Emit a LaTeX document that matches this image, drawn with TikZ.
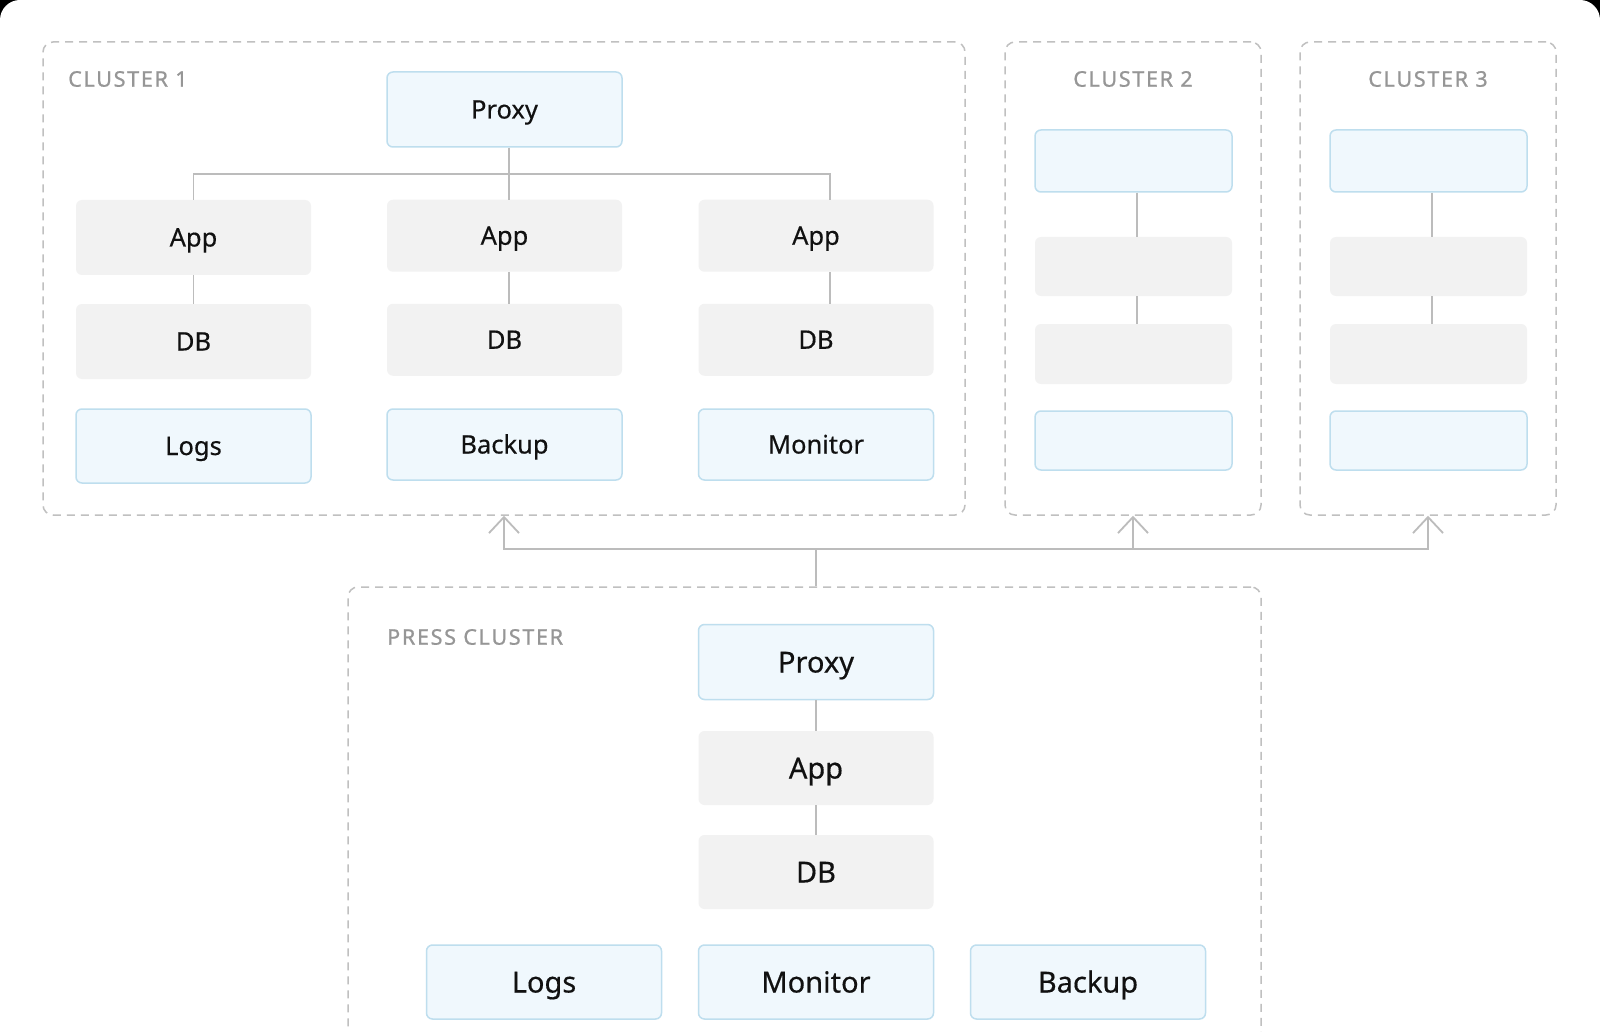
\documentclass[tikz,border=0pt]{standalone}
\usepackage{fontspec}
\setmainfont{Noto Sans}
\newfontfamily\tilefont[FakeBold=0.4]{Noto Sans}
\newfontfamily\tagfont[LetterSpace=8,FakeBold=0.8]{Noto Sans}
\usetikzlibrary{arrows.meta,positioning,calc}
\definecolor{dashgray}{RGB}{192,192,192}
\definecolor{linkgray}{RGB}{188,188,188}
\definecolor{tilegray}{RGB}{242,242,242}
\definecolor{tileblue}{RGB}{240,248,253}
\definecolor{edgeblue}{RGB}{190,222,238}
\definecolor{taggray}{RGB}{150,150,150}
\definecolor{ink}{RGB}{17,17,17}
\tikzset{
  clusterbox/.style={draw=dashgray,line width=1.5pt,dash pattern=on 8pt off 6pt,
    rounded corners=10pt,minimum width=#1,minimum height=473pt},
  tag/.style={text=taggray,inner sep=0pt,font=\tagfont\fontsize{21.5}{26}\selectfont},
  tile/.style={fill=tilegray,rounded corners=6pt,minimum width=235pt,minimum height=#1,
    text=ink,text height=24pt,text depth=6pt,font=\tilefont\fontsize{25.5}{30}\selectfont},
  tile/.default=72pt,
  svc/.style={tile=#1,fill=tileblue,draw=edgeblue,line width=1.5pt},
  svc/.default=72pt,
  big/.style={text height=27pt,text depth=6pt,font=\tilefont\fontsize{29}{34}\selectfont},
  narrow/.style={minimum width=197pt},
  link/.style={draw=linkgray,line width=1.8pt},
  feed/.style={-{Straight Barb[length=16pt,width=30pt]}},
}
\begin{document}
\begin{tikzpicture}[x=1pt,y=-1pt]
  \useasboundingbox (0,0) rectangle (1600,1032);
  \clip (0,0) rectangle (1600,1032);
  \fill[black] (0,0) rectangle (1600,1032);
  \fill[white,rounded corners=20pt] (0,0) rectangle (1600,1100);

  \node[clusterbox=922pt] (c1) at (504,278.5) {};
  \node[clusterbox=256pt] (c2) at (1133,278.5) {};
  \node[clusterbox=256pt] (c3) at (1428,278.5) {};
  \node[clusterbox=913pt] (cp) at (804.5,823.5) {};

  \node[tag,anchor=west] (t1) at (68,79) {CLUSTER 1};
  \node[tag] (t2) at (1133,79) {CLUSTER 2};
  \node[tag] (t3) at (1428,79) {CLUSTER 3};
  \node[tag,anchor=west] (tp) at (387,637) {PRESS CLUSTER};

  % cluster 1
  \node[svc=75pt] (proxyA) at (504.5,109.5) {Proxy};
  \node[tile=75pt] (appA1) at (193.5,237.5) {App};
  \node[tile=75pt] (dbA1) at (193.5,341.5) {DB};
  \node[svc=74pt] (logsA) at (193.5,446) {Logs};
  \foreach \i/\x/\s in {2/504.5/Backup,3/816/Monitor}{
    \node[tile] (appA\i) at (\x,235.75) {App};
    \node[tile] (dbA\i) at (\x,339.75) {DB};
    \node[svc=71pt] (svcA\i) at (\x,444.5) {\s};
  }
  \coordinate (busA) at (509,174);
  \draw[link] ([xshift=4.5pt]proxyA.south) -- (busA);
  \draw[link] (appA1.north) |- (busA) -| ([xshift=14pt]appA3.north);
  \draw[link] (busA) -- ([xshift=4.5pt]appA2.north);
  \draw[link] (appA1.south) -- (dbA1.north);
  \draw[link] ([xshift=4.5pt]appA2.south) -- ([xshift=4.5pt]dbA2.north);
  \draw[link] ([xshift=14pt]appA3.south) -- ([xshift=14pt]dbA3.north);

  % cluster 2 and 3
  \foreach \c/\x in {B/1133.5,C/1428.5}{
    \node[svc=62pt,narrow] (top\c) at (\x,161) {};
    \node[tile=59pt,narrow] (mid\c) at (\x,266.5) {};
    \node[tile=60pt,narrow] (low\c) at (\x,354) {};
    \node[svc=59pt,narrow] (end\c) at (\x,440.5) {};
    \draw[link] ([xshift=3.5pt]top\c.south) -- ([xshift=3.5pt]mid\c.north);
    \draw[link] ([xshift=3.5pt]mid\c.south) -- ([xshift=3.5pt]low\c.north);
  }

  % press cluster
  \node[svc=75pt,big] (proxyP) at (816,662) {Proxy};
  \node[tile=74pt,big] (appP) at (816,768) {App};
  \node[tile=74pt,big] (dbP) at (816,872) {DB};
  \node[svc=74pt,big] (logsP) at (544,982) {Logs};
  \node[svc=74pt,big] (monitorP) at (816,982) {Monitor};
  \node[svc=74pt,big] (backupP) at (1088,982) {Backup};
  \draw[link] (proxyP.south) -- (appP.north);
  \draw[link] (appP.south) -- (dbP.north);

  \coordinate (hub) at (816,549);
  \draw[link] (proxyP |- cp.north) -- (hub);
  \draw[link,feed] (hub) -| (c1.south);
  \draw[link,feed] (hub) -| (c3.south);
  \draw[link,feed] (hub -| c2.south) -- (c2.south);
\end{tikzpicture}
\end{document}
